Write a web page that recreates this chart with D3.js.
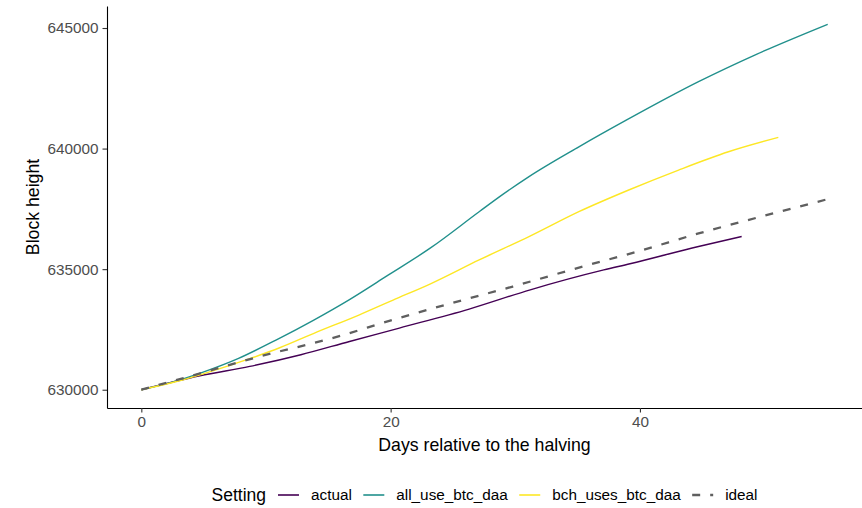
<!DOCTYPE html>
<html>
<head>
<meta charset="utf-8">
<script src="https://cdn.jsdelivr.net/npm/d3@7"></script>
<style>
  body { margin: 0; background: #fff; }
  svg { display: block; font-family: "Liberation Sans", Arial, sans-serif; }
</style>
</head>
<body>
<div id="chart"></div>
<script>
// values: [day, block height]
const actual = [
  [0, 630000], [4.7, 630580], [8.7, 630966], [12.8, 631450], [16.7, 632002],
  [20.7, 632557], [26.3, 633344], [31.2, 634144], [37.1, 634969], [39.2, 635222],
  [44.7, 635939], [48.16, 636353]
];
const allUseBtcDaa = [
  [0, 630000], [2.9, 630380], [4.9, 630720], [7.8, 631300], [10.8, 632060],
  [13.8, 632880], [16.7, 633740], [19.7, 634720], [23.2, 635880], [27.1, 637380],
  [29, 638100], [31.1, 638840], [35.1, 640075], [38.9, 641180], [44.7, 642777],
  [49.3, 643900], [55.06, 645155]
];
const bchUsesBtcDaa = [
  [0, 630000], [2.9, 630350], [4.9, 630650], [8.7, 631290], [11.1, 631740],
  [13.8, 632330], [17.5, 633108], [20.2, 633720], [23.2, 634393], [27.1, 635383],
  [31.1, 636348], [35.1, 637383], [39.1, 638282], [43.1, 639110], [47.1, 639868],
  [51.1, 640464]
];
const ideal = [
  [0, 630000], [3.4, 630484], [9.5, 631380], [15.4, 632150], [20.2, 632901],
  [24.7, 633564], [29.8, 634280], [35.4, 635106], [40, 635760], [44.7, 636480],
  [50.6, 637300], [55.06, 637903]
];
const settings = ['actual', 'all_use_btc_daa', 'bch_uses_btc_daa', 'ideal'];
const colors = ['#440154', '#21908C', '#FDE725', '#5f5f5f'];
const xTicks = [0, 20, 40];
const yTicks = [630000, 635000, 640000, 645000];

const width = 862;
const height = 508;
const margin = { top: 6, right: 0, bottom: 100, left: 107 };

const series = [actual, allUseBtcDaa, bchUsesBtcDaa, ideal].map((values, i) => ({
  name: settings[i],
  color: colors[i],
  values,
}));

const svg = d3.select('#chart')
  .append('svg')
  .attr('width', width)
  .attr('height', height);

// ggplot style 5% expansion
const allPts = series.flatMap(s => s.values);
const [x0, x1] = d3.extent(allPts, d => d[0]);
const [y0, y1] = d3.extent(allPts, d => d[1]);
const xPad = (x1 - x0) * 0.05;
const yPad = (y1 - y0) * 0.05;

const xScale = d3.scaleLinear()
  .domain([x0 - xPad, x1 + xPad])
  .range([margin.left, width - margin.right]);
const yScale = d3.scaleLinear()
  .domain([y0 - yPad, y1 + yPad])
  .range([height - margin.bottom, margin.top]);

const line = d3.line()
  .x(d => xScale(d[0]))
  .y(d => yScale(d[1]))
  .curve(d3.curveMonotoneX);

svg.append('g')
  .selectAll('path')
  .data(series)
  .join('path')
  .attr('fill', 'none')
  .attr('stroke', d => d.color)
  .attr('stroke-width', d => d.name === 'ideal' ? 2.3 : 1.4)
  .attr('stroke-dasharray', d => d.name === 'ideal' ? '8,10' : null)
  .attr('d', d => line(d.values));

// axes
const xAxis = svg.append('g')
  .attr('transform', `translate(0, ${height - margin.bottom})`)
  .call(d3.axisBottom(xScale).tickValues(xTicks).tickSize(4.5).tickPadding(4).tickSizeOuter(0));
const yAxis = svg.append('g')
  .attr('transform', `translate(${margin.left}, 0)`)
  .call(d3.axisLeft(yScale).tickValues(yTicks).tickFormat(d3.format('d')).tickSize(4.5).tickPadding(4).tickSizeOuter(0));

[xAxis, yAxis].forEach(g => {
  g.select('.domain').attr('stroke', '#000').attr('stroke-width', 1.1);
  g.selectAll('.tick line').attr('stroke', '#333').attr('stroke-width', 1.1);
  g.selectAll('.tick text')
    .attr('fill', '#4D4D4D')
    .style('font-size', '15.3px')
    .style('font-family', '"Liberation Sans", Arial, sans-serif');
});

svg.append('text')
  .attr('x', (margin.left + width - margin.right) / 2)
  .attr('y', 450.5)
  .attr('text-anchor', 'middle')
  .style('font-size', '17.7px')
  .text('Days relative to the halving');

svg.append('text')
  .attr('transform', `translate(39, ${(margin.top + height - margin.bottom) / 2}) rotate(-90)`)
  .attr('text-anchor', 'middle')
  .style('font-size', '17.7px')
  .text('Block height');

// legend, centred under the panel
const legend = svg.append('g');
const legendY = 495;
let cx = 0;
const title = legend.append('text')
  .attr('x', 0)
  .attr('y', legendY)
  .attr('dy', '0.35em')
  .style('font-size', '17.5px')
  .text('Setting');
cx += title.node().getComputedTextLength() + 12;

series.forEach(s => {
  legend.append('line')
    .attr('x1', cx).attr('x2', cx + 21)
    .attr('y1', legendY).attr('y2', legendY)
    .attr('stroke', s.color)
    .attr('stroke-width', s.name === 'ideal' ? 2.3 : 1.6)
    .attr('stroke-dasharray', s.name === 'ideal' ? '8,10' : null);
  cx += 21 + 12;
  const t = legend.append('text')
    .attr('x', cx)
    .attr('y', legendY)
    .attr('dy', '0.35em')
    .style('font-size', '15.3px')
    .text(s.name);
  cx += t.node().getComputedTextLength() + 11.5;
});
cx -= 11.5;
const panelMid = (margin.left + width - margin.right) / 2;
legend.attr('transform', `translate(${panelMid - cx / 2}, 0)`);
</script>
</body>
</html>
